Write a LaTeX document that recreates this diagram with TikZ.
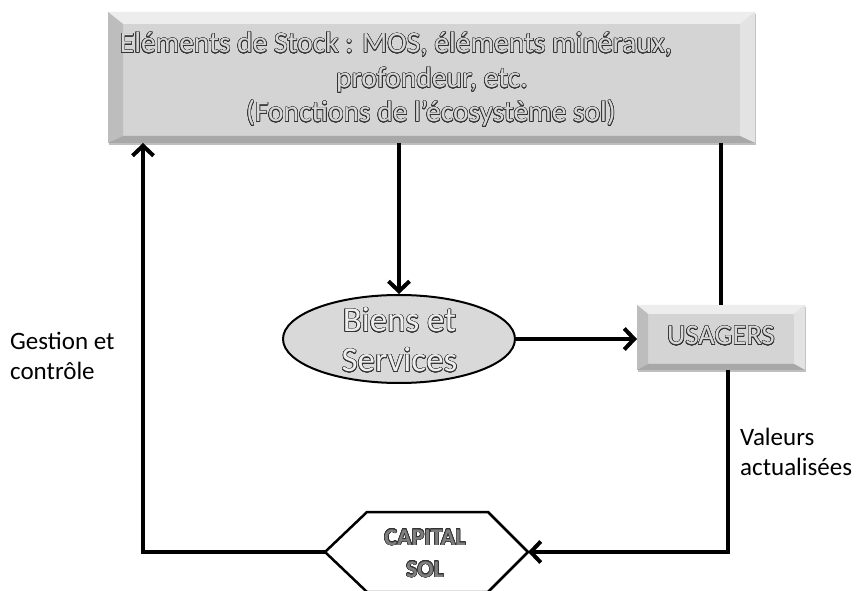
\documentclass[tikz,border=0pt]{standalone}
\usepackage{fontspec}
\setmainfont{Carlito}
\usepackage[copies]{contour}
\usetikzlibrary{arrows.meta,shadows,calc,shapes.geometric}
\contourlength{0.55pt}
\contournumber{24}

\definecolor{face}{HTML}{D4D4D4}
\definecolor{bvtop}{HTML}{EDEDED}
\definecolor{bvleft}{HTML}{BDBDBD}
\definecolor{bvright}{HTML}{E3E3E3}
\definecolor{bvbottom}{HTML}{A8A8A8}
\definecolor{ovalfill}{HTML}{D9D9D9}
\definecolor{txtline}{HTML}{333333}
\definecolor{txtfill}{HTML}{D8D8D8}
\definecolor{txtlight}{HTML}{EEEEEE}
\definecolor{capfill}{HTML}{7F7F7F}

% hollow (outlined) lettering
\newcommand\hollow[2]{{\color{#1}\contour{txtline}{#2}}}

% bevelled faces of a raised rectangle: node, side, top, bottom widths
\newcommand\bevelfaces[4]{%
  \fill[bvtop] (#1.north west) -- (#1.north east) -- ($(#1.north east)+(-#2,-#3)$) -- ($(#1.north west)+(#2,-#3)$) -- cycle;
  \fill[bvleft] (#1.north west) -- ($(#1.north west)+(#2,-#3)$) -- ($(#1.south west)+(#2,#4)$) -- (#1.south west) -- cycle;
  \fill[bvright] (#1.north east) -- ($(#1.north east)+(-#2,-#3)$) -- ($(#1.south east)+(-#2,#4)$) -- (#1.south east) -- cycle;
  \fill[bvbottom] (#1.south west) -- ($(#1.south west)+(#2,#4)$) -- ($(#1.south east)+(-#2,#4)$) -- (#1.south east) -- cycle;
}

\begin{document}
\begin{tikzpicture}[x=1pt,y=1pt,
  conn/.style={line width=4pt},
  tip/.style={-{Straight Barb[length=10pt,width=21pt]}},
  bevelbox/.style={rectangle, fill=face, inner sep=0pt, outer sep=0pt,
    drop shadow={shadow xshift=1pt, shadow yshift=-2pt, opacity=0.25, fill=black}},
  stocktext/.style={anchor=base, inner sep=0pt, font=\fontsize{29.5}{34}\selectfont},
  ovaltext/.style={anchor=base, inner sep=0pt, font=\fontsize{35}{40}\selectfont},
  usatext/.style={anchor=base, inner sep=0pt, font=\fontsize{28.5}{34}\selectfont},
  captext/.style={anchor=base, inner sep=0pt, font=\fontsize{24}{28}\selectfont\bfseries},
  lbl/.style={anchor=base west, inner sep=0pt, font=\fontsize{25}{30}\selectfont}]
\useasboundingbox (0,0) rectangle (863,590);

% stock box
\node[bevelbox, minimum width=647pt, minimum height=131pt] (stock) at (431.5,512.5) {};
\bevelfaces{stock}{15}{12}{7}
\node[stocktext] (s1) at (396,537) {\hollow{txtfill}{Eléments de Stock : MOS, éléments minéraux,}};
\node[stocktext] (s2) at (432,502) {\hollow{txtfill}{profondeur, etc.}};
\node[stocktext] (s3) at (431,468) {\hollow{txtfill}{(Fonctions de l’écosystème sol)}};

% goods and services
\node[ellipse, draw, line width=2pt, fill=ovalfill, inner sep=0pt,
      minimum width=232pt, minimum height=88pt] (bs) at (399,251) {};
\node[ovaltext] (b1) at (399.5,258) {\hollow{txtlight}{Biens et}};
\node[ovaltext] (b2) at (399.5,218) {\hollow{txtlight}{Services}};

% users
\node[bevelbox, minimum width=168pt, minimum height=65pt] (usa) at (721,252.5) {};
\bevelfaces{usa}{11}{9}{6}
\node[usatext] (u1) at (721,245) {\hollow{txtfill}{USAGERS}};

% soil capital hexagon
\coordinate (hexW) at (325,38);
\coordinate (hexE) at (528,38);
\draw[line width=2.5pt, fill=white, line join=miter]
  (hexW) -- (367,78) -- (488,78) -- (hexE) -- (488,-2) -- (367,-2) -- cycle;
\node[captext] (c1) at (425,45) {\hollow{capfill}{CAPITAL}};
\node[captext] (c2) at (425,13) {\hollow{capfill}{SOL}};

% connectors
\draw[conn,tip] (stock.south -| bs.north) -- (bs.north);
\draw[conn,tip] (bs.east) -- (bs.east -| usa.west);
\draw[conn] (usa.north) -- (usa.north |- stock.south);
\coordinate (usaout) at ($(usa.south)+(7,0)$);
\draw[conn,tip] (usaout) |- (hexE);
\coordinate (gc) at ($(stock.south west)+(35,0)$);
\draw[conn,tip] (hexW) -| (gc);

% labels
\node[lbl] (g1) at (10,240) {Gestion et};
\node[lbl] (g2) at (10,210) {contrôle};
\node[lbl] (v1) at (740,145) {Valeurs};
\node[lbl] (v2) at (740,115) {actualisées};
\end{tikzpicture}
\end{document}
